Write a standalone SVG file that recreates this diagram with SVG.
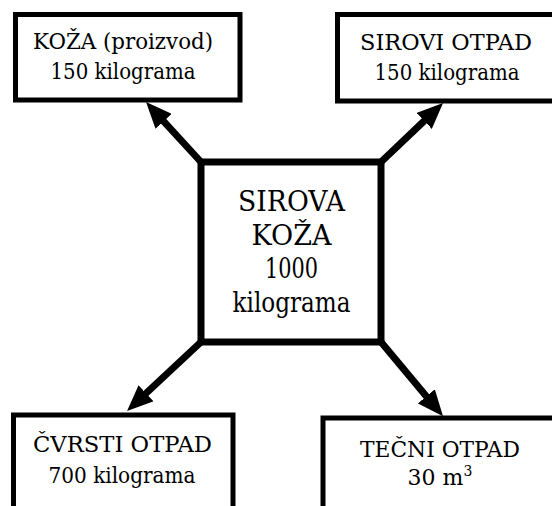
<svg xmlns="http://www.w3.org/2000/svg" width="552" height="506" viewBox="0 0 552 506">
<defs>
<style>
.box{fill:#fff;stroke:#000;stroke-width:5}
.main{fill:#fff;stroke:#000;stroke-width:7}
text{fill:#000;text-anchor:middle;font-family:'DejaVu Serif','Liberation Serif',serif}
.t{font-size:22px}
.tm{font-size:28px}
.c{stroke:#000;stroke-width:7;fill:none;marker-end:url(#ah)}
</style>
<marker id="ah" markerUnits="userSpaceOnUse" viewBox="0 0 26 22" refX="8" refY="11" markerWidth="26" markerHeight="22" orient="auto">
<path d="M0,0 L26,11 L0,22 z" fill="#000"/>
</marker>
</defs>
<rect width="552" height="506" fill="#fff"/>
<g id="connectors">
<line class="c" x1="201" y1="162" x2="158.2" y2="115.3"/>
<line class="c" x1="381" y1="162" x2="430" y2="115.4"/>
<line class="c" x1="201" y1="342" x2="140.2" y2="398.7"/>
<line class="c" x1="381" y1="342" x2="431.5" y2="402.5"/>
</g>
<g id="koza">
<rect class="box" x="15.5" y="14.5" width="224.5" height="85.5"/>
<text class="t" x="123" y="49" textLength="180" lengthAdjust="spacingAndGlyphs">KOŽA (proizvod)</text>
<text class="t" x="123" y="79" textLength="145" lengthAdjust="spacingAndGlyphs">150 kilograma</text>
</g>
<g id="sirovi-otpad">
<rect class="box" x="337.5" y="14.5" width="225" height="86.5"/>
<text class="t" x="446" y="50" textLength="172" lengthAdjust="spacingAndGlyphs">SIROVI OTPAD</text>
<text class="t" x="447" y="80" textLength="145" lengthAdjust="spacingAndGlyphs">150 kilograma</text>
</g>
<g id="sirova-koza">
<rect class="main" x="201" y="162" width="180" height="180"/>
<text class="tm" x="291.5" y="211" textLength="107" lengthAdjust="spacingAndGlyphs">SIROVA</text>
<text class="tm" x="291.5" y="245" textLength="80" lengthAdjust="spacingAndGlyphs">KOŽA</text>
<text class="tm" x="291.5" y="278" textLength="53" lengthAdjust="spacingAndGlyphs">1000</text>
<text class="tm" x="291.5" y="312" textLength="118" lengthAdjust="spacingAndGlyphs">kilograma</text>
</g>
<g id="cvrsti-otpad">
<rect class="box" x="13.5" y="415" width="219.5" height="110"/>
<text class="t" x="122.5" y="452" textLength="179" lengthAdjust="spacingAndGlyphs">ČVRSTI OTPAD</text>
<text class="t" x="122" y="483" textLength="147" lengthAdjust="spacingAndGlyphs">700 kilograma</text>
</g>
<g id="tecni-otpad">
<rect class="box" x="323" y="418" width="250" height="110"/>
<text class="t" x="440" y="457" textLength="160" lengthAdjust="spacingAndGlyphs">TEČNI OTPAD</text>
<text class="t" x="440" y="485">30 m<tspan font-size="14" dy="-9">3</tspan></text>
</g>
</svg>
